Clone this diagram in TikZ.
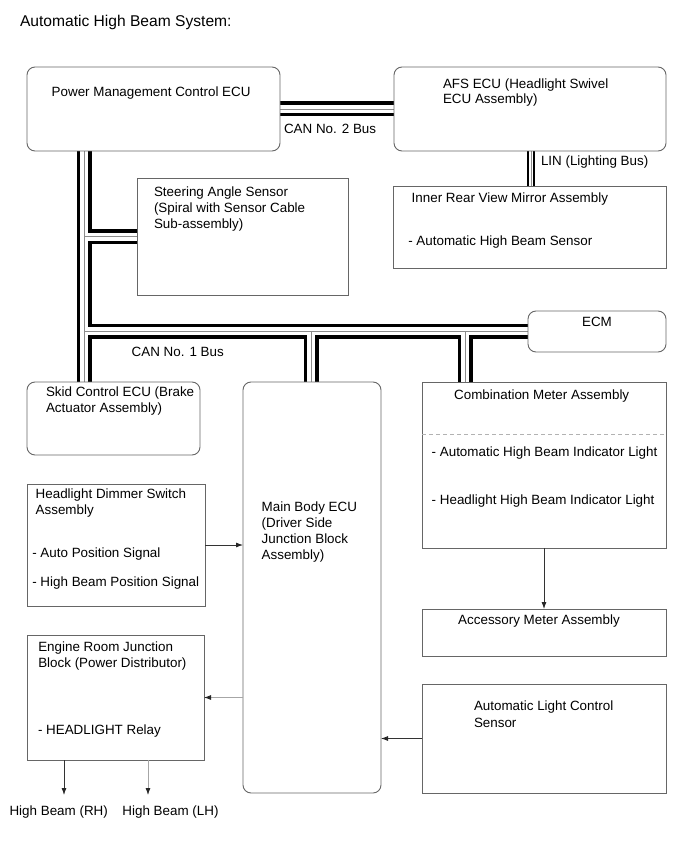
\documentclass[tikz,border=0pt]{standalone}
\usepackage{fontspec}
\setmainfont{Liberation Sans}
\usetikzlibrary{arrows.meta,calc}
\pgfdeclarelayer{bg}
\pgfdeclarelayer{paper}
\pgfsetlayers{paper,bg,main}
\begin{document}
\begin{tikzpicture}[x=1pt,y=-1pt,
  box/.style={draw=black!60,line width=0.9pt,fill=white,anchor=north west,outer sep=0pt,inner sep=0pt},
  rbox/.style={box,rounded corners=8pt},
  txt/.style={anchor=base west,inner sep=0pt,outer sep=0pt,font=\fontsize{13.4}{16}\selectfont},
  ctxt/.style={txt,anchor=base},
  arr/.style={-{Latex[length=7pt,width=5pt,color=black!85]},line width=0.8pt,draw=black!80},
  garr/.style={arr,draw=black!35},
]
\begin{pgfonlayer}{paper}
\fill[white] (0,0) rectangle (690,853);
\end{pgfonlayer}
\useasboundingbox (0,0) rectangle (690,853);

% title
\node[txt,font=\fontsize{15.6}{18}\selectfont] (title) at (20,26.5) {Automatic High Beam System:};

% boxes
\node[rbox,minimum width=253pt,minimum height=84pt] (pmc) at (27,67) {};
\node[rbox,minimum width=272pt,minimum height=84pt] (afs) at (394,67) {};
\node[box,minimum width=273pt,minimum height=82pt] (mirror) at (393,186) {};
\node[box,minimum width=211pt,minimum height=117pt] (steer) at (137,178) {};
\node[rbox,minimum width=138pt,minimum height=41pt] (ecm) at (528,311) {};
\node[rbox,minimum width=173pt,minimum height=73pt] (skid) at (27,382) {};
\node[rbox,minimum width=138pt,minimum height=411pt] (main) at (243,382) {};
\node[box,minimum width=244pt,minimum height=166pt] (comb) at (422,382) {};
\node[box,minimum width=244pt,minimum height=47pt] (acc) at (422,609) {};
\node[box,minimum width=244pt,minimum height=109pt] (sensor) at (422,684) {};
\node[box,minimum width=178pt,minimum height=122pt] (dimmer) at (27,484) {};
\node[box,minimum width=177pt,minimum height=125pt] (engine) at (27,635) {};

% bus junction coordinates
\coordinate (jL) at (84,331);
\coordinate (jM) at (311,331);
\coordinate (jC) at (465,331);
\coordinate (lin) at (531,0);
\coordinate (dashy) at (0,434);

\begin{pgfonlayer}{bg}
\foreach \w/\c in {15/black,8/white,0.9/black!45}{
  \draw[line width=\w pt,draw=\c]
    (pmc.south -| jL) -- (skid.north -| jL)
    (steer.west -| jL) -- (steer.west)
    (jL) -- (jL -| ecm.west)
    (jM) -- (jM |- main.north)
    (jC) -- (jC |- comb.north)
    (pmc.east) -- (afs.west);
}
\foreach \w/\c in {8/black,4.2/white,0.8/black!45}{
  \draw[line width=\w pt,draw=\c] (afs.south -| lin) -- (mirror.north -| lin);
}
\end{pgfonlayer}

% dashed divider
\draw[black!30,line width=0.9pt,dash pattern=on 4pt off 3pt] (comb.west |- dashy) -- (comb.east |- dashy);

% arrows
\draw[arr] (dimmer.east) -- (dimmer.east -| main.west);
\draw[garr] (main.west |- engine.east) -- (engine.east);
\draw[arr] (sensor.west) -- (sensor.west -| main.east);
\draw[arr] (comb.south) -- (acc.north);
\coordinate (rhT) at (64,795);
\coordinate (lhT) at (148,795);
\draw[arr] (engine.south -| rhT) -- (rhT);
\draw[garr] (engine.south -| lhT) -- (lhT);

% texts
\node[txt] (tpmc) at (51.7,96.7) {Power Management Control ECU};
\node[txt] (tafs1) at (443,88.3) {AFS ECU (Headlight Swivel};
\node[txt] (tafs2) at (443,104) {ECU Assembly)};
\node[txt] (tcan2) at (284,133.3) {CAN No. 2 Bus};
\node[txt] (tlin) at (541,165) {LIN (Lighting Bus)};
\node[txt] (tmir1) at (411.7,202.3) {Inner Rear View Mirror Assembly};
\node[txt] (tmir2) at (408.3,245.7) {- Automatic High Beam Sensor};
\node[txt] (tst1) at (154,196.5) {Steering Angle Sensor};
\node[txt] (tst2) at (154,212.5) {(Spiral with Sensor Cable};
\node[txt] (tst3) at (154,228.5) {Sub-assembly)};
\node[ctxt] (tecm) at (597,326.7) {ECM};
\node[txt] (tcan1) at (131.7,356.7) {CAN No. 1 Bus};
\node[txt] (tsk1) at (46,396.7) {Skid Control ECU (Brake};
\node[txt] (tsk2) at (46,412.7) {Actuator Assembly)};
\node[txt] (tmb1) at (261.7,511.7) {Main Body ECU};
\node[txt] (tmb2) at (261.7,527.7) {(Driver Side};
\node[txt] (tmb3) at (261.7,543.7) {Junction Block};
\node[txt] (tmb4) at (261.7,559.7) {Assembly)};
\node[ctxt] (tcm1) at (541.7,399.3) {Combination Meter Assembly};
\node[txt] (tcm2) at (431.7,456.7) {- Automatic High Beam Indicator Light};
\node[txt] (tcm3) at (431.7,504) {- Headlight High Beam Indicator Light};
\node[ctxt] (tacc) at (539,624.3) {Accessory Meter Assembly};
\node[txt] (tse1) at (474,710) {Automatic Light Control};
\node[txt] (tse2) at (474,727.3) {Sensor};
\node[txt] (tdi1) at (35.7,498.3) {Headlight Dimmer Switch};
\node[txt] (tdi2) at (35.7,514.3) {Assembly};
\node[txt] (tdi3) at (32.3,557.7) {- Auto Position Signal};
\node[txt] (tdi4) at (32.3,586.7) {- High Beam Position Signal};
\node[txt] (ten1) at (38.3,651.7) {Engine Room Junction};
\node[txt] (ten2) at (38.3,667.7) {Block (Power Distributor)};
\node[txt] (ten3) at (38,734) {- HEADLIGHT Relay};
\node[ctxt] (trh) at (58.7,815) {High Beam (RH)};
\node[ctxt] (tlh) at (170.5,815) {High Beam (LH)};
\end{tikzpicture}
\end{document}
